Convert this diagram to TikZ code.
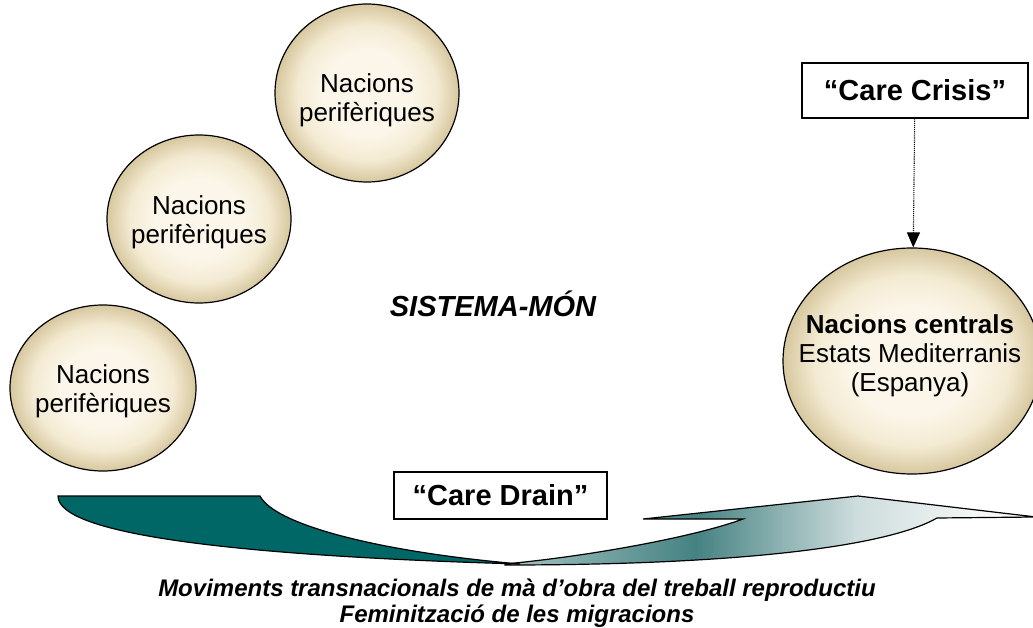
\documentclass[tikz,border=0pt]{standalone}
\usepackage{fontspec}
\setmainfont{Liberation Sans}
\usetikzlibrary{arrows.meta,shapes.geometric}
\definecolor{verdfosc}{RGB}{0,102,102}
\definecolor{beigein}{RGB}{251,246,233}
\definecolor{beigemig}{RGB}{243,234,210}
\definecolor{beigeout}{RGB}{214,199,158}
\definecolor{grisverd}{RGB}{165,195,195}
\definecolor{verdmig}{RGB}{70,130,130}
\definecolor{verdclar}{RGB}{205,220,220}
\definecolor{blanc}{RGB}{246,248,248}
\pgfdeclarehorizontalshading{cureshade}{100bp}{color(0bp)=(grisverd); color(25bp)=(grisverd); color(43bp)=(verdmig); color(58bp)=(verdclar); color(70bp)=(blanc); color(100bp)=(blanc)}
\pgfdeclareradialshading{beix}{\pgfpoint{0bp}{0bp}}{color(0bp)=(beigein); color(12bp)=(beigein); color(19bp)=(beigemig); color(25bp)=(beigeout); color(50bp)=(beigeout)}
\begin{document}
\begin{tikzpicture}[x=1pt,y=-1pt,
  nacio/.style={draw, ellipse, line width=1.2pt, shading=beix},
  ntxt/.style={align=center, font=\fontsize{26}{29}\selectfont},
  caixa/.style={draw, line width=1.2pt, fill=white, font=\bfseries\fontsize{29}{32}\selectfont}]
\useasboundingbox (0,0) rectangle (1033,628);
\begin{scope}
\node[nacio, minimum width=184pt, minimum height=178pt] (p3) at (367,93) {};
\node[nacio, minimum width=184pt, minimum height=168pt] (p2) at (199,219) {};
\node[nacio, minimum width=186pt, minimum height=166pt] (p1) at (103,388) {};
\node[ntxt] (t3) at (367,100) {Nacions\\perifèriques};
\node[ntxt] (t2) at (199,222) {Nacions\\perifèriques};
\node[ntxt] (t1) at (103,391) {Nacions\\perifèriques};
\end{scope}
\begin{scope}
\node[nacio, minimum width=258pt, minimum height=226pt] (c) at (912,361) {};
\node[ntxt] (tc) at (910,356) {\textbf{Nacions centrals}\\Estats Mediterranis\\(Espanya)};
\node[caixa, minimum width=226pt, minimum height=55pt] (cc) at (915,90.5) {“Care Crisis”};
\path[draw, densely dotted, line width=1.1pt, -{Triangle[width=13pt,length=15pt]}] (cc) -- (c);
\end{scope}
\node[font=\bfseries\itshape\fontsize{29}{32}\selectfont] (sm) at (493,304) {SISTEMA-MÓN};
% fletxa de tornada
\path[draw, line width=1.2pt, shading=cureshade] (505,564) .. controls (600,555) and (700,535) .. (743,519)
  -- (643,519) -- (858,496) -- (1036,517) -- (937,518)
  .. controls (890,545) and (750,565) .. (505,565) -- cycle;
\path[draw, line width=1.2pt, fill=verdfosc] (58,496) -- (260,496)
  .. controls (275,525) and (380,552) .. (520,564)
  .. controls (240,556) and (58,535) .. (58,496) -- cycle;
\node[caixa, minimum width=213pt, minimum height=47pt] (cd) at (500.5,495.5) {“Care Drain”};
\node[align=center, font=\bfseries\itshape\fontsize{24}{26}\selectfont] (peu) at (517,603)
  {Moviments transnacionals de mà d’obra del treball reproductiu\\Feminització de les migracions};
\end{tikzpicture}
\end{document}
